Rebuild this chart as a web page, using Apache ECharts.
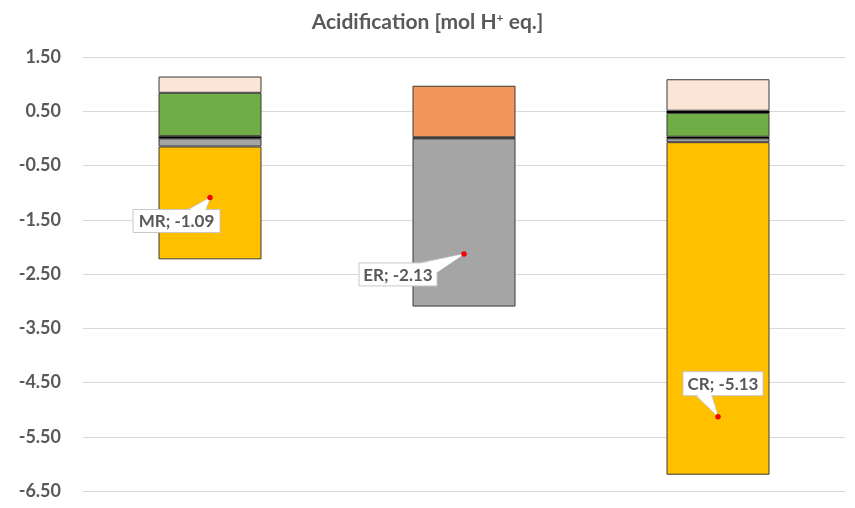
<!DOCTYPE html>
<html>
<head>
<meta charset="utf-8">
<script src="https://cdn.jsdelivr.net/npm/echarts@6/dist/echarts.min.js"></script>
<style>html,body{margin:0;padding:0;background:#fff}#c{width:855px;height:508px}</style>
</head>
<body>
<div id="c"></div>
<script>
// ---- data ----
const categories = ['MR', 'ER', 'CR'];
const grayVals   = [-0.15, -3.10, -0.07];
const yellowVals = [-2.08, null, -6.13];
const blackZero  = [0.04, 0.02, 0.03];
const greenVals  = [0.80, null, 0.44];
const blackMid   = [null, null, 0.04];
const orangeVals = [null, 0.95, null];
const peachVals  = [0.30, null, 0.58];
const netTotals  = [-1.09, -2.13, -5.13];
const yTicks = { min: -6.5, max: 1.5, step: 1 };

// ---- callout layout (pixels relative to the point) ----
const callouts = [
  { box: [-77, 12, 87, 23], wedge: [[-22, 12], [-4, 12]] },
  { box: [-105, 9, 78, 23], wedge: [[-45, 9], [-27, 18]] },
  { box: [-35, -45, 80, 24], wedge: [[-22, -21], [-6, -21]] }
];

const FONT = 'Lato, "Open Sans", sans-serif';
const TXT = '#595959';
const border = { borderColor: '#3a3a3a', borderWidth: 1 };

function barSeries(name, data, color, extra) {
  return Object.assign({
    name, type: 'bar', stack: 'a', data, barWidth: 103,
    itemStyle: Object.assign({ color }, border),
    emphasis: { disabled: true }
  }, extra || {});
}

const chart = echarts.init(document.getElementById('c'), null, { renderer: 'canvas' });
chart.setOption({
  animation: false,
  title: {
    text: 'Acidification [mol H{s|+} eq.]',
    left: 'center', top: 7,
    textStyle: {
      fontFamily: FONT, fontSize: 21, fontWeight: 'bold', color: TXT,
      rich: { s: { fontFamily: FONT, fontSize: 12, fontWeight: 'bold', color: TXT, verticalAlign: 'top', padding: [0, 0, 9, 0] } }
    }
  },
  grid: { left: 83, right: 10, top: 57, bottom: 17, containLabel: false },
  xAxis: {
    type: 'category', data: categories,
    axisLine: { show: false }, axisTick: { show: false }, axisLabel: { show: false },
    splitLine: { show: false }
  },
  yAxis: {
    type: 'value', min: yTicks.min, max: yTicks.max, interval: yTicks.step,
    axisLine: { show: false }, axisTick: { show: false },
    axisLabel: {
      margin: 22, fontFamily: FONT, fontSize: 18, fontWeight: 'bold', color: TXT,
      formatter: v => v.toFixed(2)
    },
    splitLine: { lineStyle: { color: '#D9D9D9', width: 1 } }
  },
  series: [
    barSeries('gray', grayVals, '#A5A5A5'),
    barSeries('yellow', yellowVals, '#FFC000'),
    barSeries('blackZero', blackZero, '#000000', { itemStyle: { color: '#000000' } }),
    barSeries('green', greenVals, '#70AD47'),
    barSeries('blackMid', blackMid, '#000000', { itemStyle: { color: '#000000' } }),
    barSeries('orange', orangeVals, '#F1975A'),
    barSeries('peach', peachVals, '#FBE5D6'),
    {
      type: 'custom', name: 'net', z: 10,
      data: netTotals.map((v, i) => [i, v]),
      encode: { x: 0, y: 1 },
      renderItem: function (params, api) {
        const i = params.dataIndex;
        const p = api.coord([api.value(0), api.value(1)]);
        const c = callouts[i];
        const bx = p[0] + c.box[0], by = p[1] + c.box[1];
        const w = c.box[2], h = c.box[3];
        const poly = [[p[0], p[1]], [p[0] + c.wedge[0][0], p[1] + c.wedge[0][1]], [p[0] + c.wedge[1][0], p[1] + c.wedge[1][1]]];
        return {
          type: 'group',
          children: [
            { type: 'polygon', shape: { points: poly }, style: { fill: '#FFFFFF', stroke: '#C8C8C8', lineWidth: 1 } },
            { type: 'rect', shape: { x: bx, y: by, width: w, height: h }, style: { fill: '#FFFFFF', stroke: '#C8C8C8', lineWidth: 1 } },
            { type: 'polygon', shape: { points: [[p[0], p[1]], [p[0] + c.wedge[0][0] + 1, p[1] + c.wedge[0][1] + (c.wedge[0][1] > 0 ? 1 : -1)], [p[0] + c.wedge[1][0] - 1, p[1] + c.wedge[1][1] + (c.wedge[1][1] > 0 ? 1 : -1)]] }, style: { fill: '#FFFFFF' } },
            { type: 'text', style: { x: bx + w / 2, y: by + h / 2 + 1, text: categories[i] + '; ' + netTotals[i].toFixed(2), align: 'center', verticalAlign: 'middle', fill: TXT, font: 'bold 17px ' + FONT } },
            { type: 'circle', shape: { cx: p[0], cy: p[1], r: 2.5 }, style: { fill: '#FF0000', stroke: '#C00000', lineWidth: 0.5 } }
          ]
        };
      }
    }
  ]
});
</script>
</body>
</html>
